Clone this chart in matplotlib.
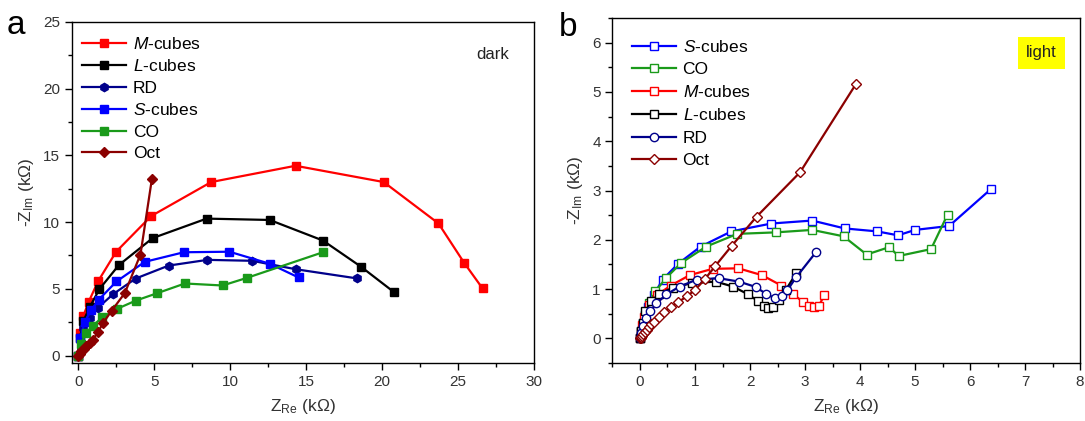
"""Nyquist plots of the Cu2O particles, dark (a) and light (b)."""

import matplotlib

matplotlib.use("Agg")
import matplotlib.pyplot as plt  # noqa: E402
from matplotlib.ticker import MultipleLocator  # noqa: E402

plt.rcParams["font.family"] = ["Liberation Sans", "DejaVu Sans"]
plt.rcParams["mathtext.fontset"] = "custom"
plt.rcParams["mathtext.rm"] = "Liberation Sans"
plt.rcParams["mathtext.it"] = "Liberation Sans:italic"

# --- panel a: dark (kOhm) ---
dark_m_x = [0, 0.11, 0.34, 0.69, 1.32, 2.5, 4.8, 8.75, 14.3, 20.1, 23.7, 25.4, 26.6]
dark_m_y = [0, 1.7, 2.95, 4.02, 5.58, 7.78, 10.45, 13.0, 14.22, 13.0, 9.9, 6.93, 5.03]
dark_l_x = [0, 0.12, 0.35, 0.76, 1.4, 2.68, 4.9, 8.45, 12.6, 16.1, 18.6, 20.8]
dark_l_y = [0, 1.3, 2.6, 3.62, 4.98, 6.78, 8.8, 10.26, 10.16, 8.62, 6.66, 4.73]
dark_rd_x = [0, 0.1, 0.33, 0.8, 1.32, 2.3, 3.78, 5.95, 8.5, 11.45, 14.3, 18.35]
dark_rd_y = [0, 1.2, 2.07, 2.83, 3.6, 4.6, 5.77, 6.74, 7.17, 7.1, 6.47, 5.78]
dark_s_x = [0, 0.14, 0.45, 0.85, 1.37, 2.52, 4.38, 6.95, 9.95, 12.6, 14.5]
dark_s_y = [0, 1.35, 2.55, 3.4, 4.2, 5.55, 7.02, 7.74, 7.78, 6.88, 5.85]
dark_co_x = [0, 0.2, 0.54, 0.98, 1.6, 2.56, 3.8, 5.17, 7.02, 9.5, 11.1, 16.1]
dark_co_y = [0, 0.9, 1.7, 2.25, 2.87, 3.5, 4.12, 4.66, 5.4, 5.25, 5.82, 7.74]
dark_oct_x = [0, 0.1, 0.22, 0.38, 0.54, 0.75, 0.98, 1.3, 1.63, 2.2, 3.07, 4.1, 4.85]
dark_oct_y = [0, 0.15, 0.33, 0.5, 0.7, 0.95, 1.2, 1.75, 2.42, 3.35, 4.68, 7.57, 13.22]

# --- panel b: light (kOhm) ---
light_s_x = [0, 0.02, 0.05, 0.09, 0.14, 0.25, 0.41, 0.69, 1.1, 1.66, 2.39, 3.13,
             3.72, 4.31, 4.69, 5.0, 5.62, 6.38]
light_s_y = [0, 0.15, 0.3, 0.47, 0.64, 0.88, 1.19, 1.51, 1.86, 2.17, 2.33, 2.39,
             2.23, 2.17, 2.09, 2.2, 2.28, 3.03]
light_co_x = [0, 0.02, 0.05, 0.09, 0.16, 0.28, 0.47, 0.75, 1.2, 1.77, 2.47, 3.13,
              3.7, 4.12, 4.53, 4.7, 5.29, 5.59]
light_co_y = [0, 0.14, 0.3, 0.47, 0.71, 0.95, 1.22, 1.53, 1.86, 2.12, 2.15, 2.2,
              2.07, 1.7, 1.85, 1.67, 1.81, 2.51]
light_m_x = [0, 0.02, 0.04, 0.08, 0.16, 0.31, 0.56, 0.9, 1.32, 1.79, 2.22, 2.57,
             2.79, 2.96, 3.07, 3.16, 3.25, 3.35]
light_m_y = [0, 0.12, 0.26, 0.44, 0.68, 0.88, 1.07, 1.28, 1.41, 1.42, 1.28, 1.07,
             0.89, 0.74, 0.66, 0.63, 0.66, 0.87]
light_l_x = [0, 0.02, 0.05, 0.1, 0.2, 0.35, 0.6, 0.95, 1.38, 1.69, 1.97, 2.15,
             2.25, 2.33, 2.42, 2.52, 2.65, 2.84]
light_l_y = [0, 0.15, 0.32, 0.55, 0.75, 0.9, 1.03, 1.12, 1.15, 1.05, 0.89, 0.75,
             0.66, 0.61, 0.64, 0.77, 0.98, 1.32]
light_rd_x = [0, 0.02, 0.05, 0.11, 0.19, 0.3, 0.48, 0.72, 1.03, 1.43, 1.8, 2.11,
              2.29, 2.46, 2.59, 2.68, 2.84, 3.2]
light_rd_y = [0, 0.1, 0.24, 0.41, 0.56, 0.71, 0.89, 1.05, 1.19, 1.22, 1.15, 1.04,
              0.9, 0.81, 0.86, 0.98, 1.24, 1.75]
light_oct_x = [0, 0.01, 0.02, 0.04, 0.06, 0.09, 0.12, 0.16, 0.2, 0.25, 0.34, 0.44,
               0.56, 0.69, 0.85, 1.0, 1.18, 1.37, 1.67, 2.12, 2.91, 3.93]
light_oct_y = [0, 0.01, 0.03, 0.05, 0.08, 0.12, 0.17, 0.22, 0.28, 0.34, 0.44, 0.53,
               0.63, 0.73, 0.85, 0.98, 1.2, 1.47, 1.88, 2.47, 3.37, 5.17]

RED, BLACK, NAVY, BLUE, GREEN, MAROON = "#ff0000", "#000000", "#00008b", "#0000ff", "#1a9a1a", "#8b0000"
TXT = "#333333"


def style_axes(ax, xlim, ylim, xmaj, xmin, ymaj, ymin):
    ax.set_xlim(*xlim)
    ax.set_ylim(*ylim)
    ax.xaxis.set_major_locator(MultipleLocator(xmaj))
    ax.xaxis.set_minor_locator(MultipleLocator(xmin))
    ax.yaxis.set_major_locator(MultipleLocator(ymaj))
    ax.yaxis.set_minor_locator(MultipleLocator(ymin))
    ax.tick_params(which="both", direction="out", labelsize=11, labelcolor=TXT, width=1)
    ax.tick_params(which="major", length=5)
    ax.tick_params(which="minor", length=3)
    for s in ax.spines.values():
        s.set_linewidth(1)
    ax.set_xlabel(r"Z$_{\rm Re}$ (k$\Omega$)", fontsize=12.5, color=TXT, labelpad=6)
    ax.set_ylabel(r"-Z$_{\rm Im}$ (k$\Omega$)", fontsize=12.5, color=TXT, labelpad=5)


fig = plt.figure(figsize=(10.85, 4.21), dpi=100)
ax1 = fig.add_axes([0.0664, 0.138, 0.426, 0.81])
ax2 = fig.add_axes([0.5645, 0.138, 0.431, 0.819])

lw, ms = 1.6, 5.5
ax1.plot(dark_m_x, dark_m_y, "-s", color=RED, lw=lw, ms=ms, label=r"$\it{M}$-cubes")
ax1.plot(dark_l_x, dark_l_y, "-s", color=BLACK, lw=lw, ms=ms, label=r"$\it{L}$-cubes")
ax1.plot(dark_rd_x, dark_rd_y, "-h", color=NAVY, lw=lw, ms=ms + 0.5, label="RD")
ax1.plot(dark_s_x, dark_s_y, "-s", color=BLUE, lw=lw, ms=ms, label=r"$\it{S}$-cubes")
ax1.plot(dark_co_x, dark_co_y, "-s", color=GREEN, lw=lw, ms=ms, label="CO")
ax1.plot(dark_oct_x, dark_oct_y, "-D", color=MAROON, lw=lw, ms=ms - 0.5, label="Oct")
style_axes(ax1, (-0.4, 30), (-0.55, 25), 5, 2.5, 5, 2.5)
ax1.legend(loc="upper left", frameon=False, fontsize=12.5, handlelength=2.5,
           handletextpad=0.4, labelspacing=0.37, borderaxespad=0.3, borderpad=0.3,
           bbox_to_anchor=(0.0, 0.99))
ax1.text(0.945, 0.905, "dark", transform=ax1.transAxes, ha="right", va="center",
         fontsize=12, color="#222222")

oms = 5.5
ax2.plot(light_s_x, light_s_y, "-s", color=BLUE, lw=lw, ms=oms, mfc="white", label=r"$\it{S}$-cubes")
ax2.plot(light_co_x, light_co_y, "-s", color=GREEN, lw=lw, ms=oms, mfc="white", label="CO")
ax2.plot(light_m_x, light_m_y, "-s", color=RED, lw=lw, ms=oms, mfc="white", label=r"$\it{M}$-cubes")
ax2.plot(light_l_x, light_l_y, "-s", color=BLACK, lw=lw, ms=oms, mfc="white", label=r"$\it{L}$-cubes")
ax2.plot(light_rd_x, light_rd_y, "-o", color=NAVY, lw=lw, ms=oms + 0.5, mfc="white", label="RD")
ax2.plot(light_oct_x, light_oct_y, "-D", color=MAROON, lw=lw, ms=oms - 0.5, mfc="white", label="Oct")
style_axes(ax2, (-0.5, 8), (-0.5, 6.5), 1, 0.5, 1, 0.5)
ax2.legend(loc="upper left", frameon=False, fontsize=12.5, handlelength=2.5,
           handletextpad=0.4, labelspacing=0.41, borderaxespad=0.3, borderpad=0.3,
           bbox_to_anchor=(0.02, 0.97))
ax2.text(0.917, 0.899, "light", transform=ax2.transAxes, ha="center", va="center",
         fontsize=12, color="#222222",
         bbox=dict(boxstyle="square,pad=0.5", fc="#ffff00", ec="none"))

fig.text(0.006, 0.94, "a", fontsize=24, va="center", ha="left")
fig.text(0.515, 0.935, "b", fontsize=24, va="center", ha="left")

fig.savefig("out.png", dpi=100)
